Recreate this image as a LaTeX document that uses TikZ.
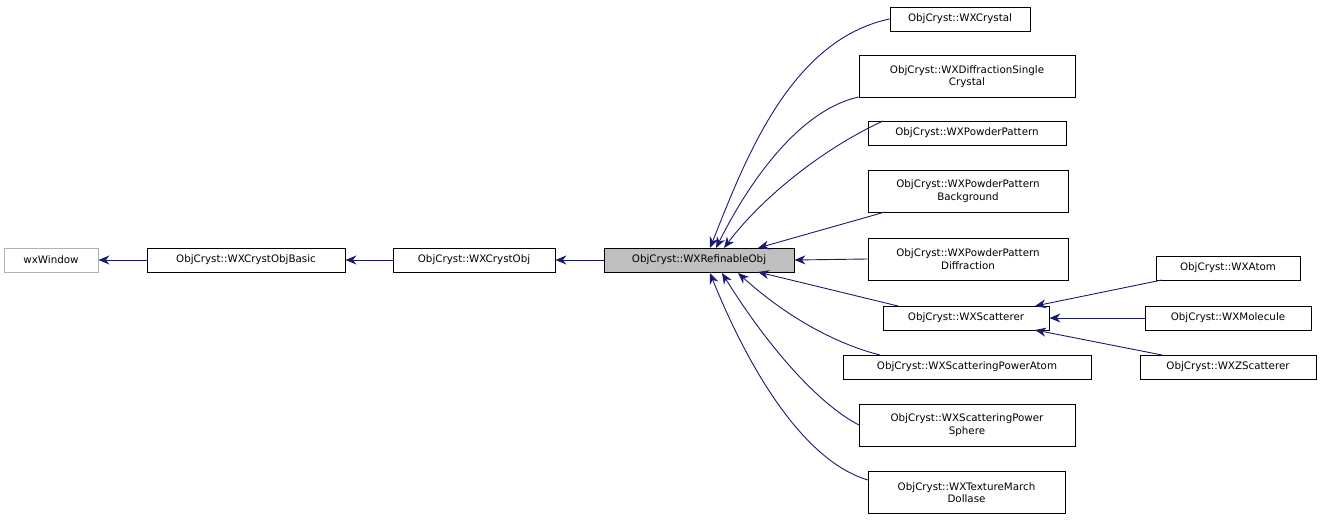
\documentclass[tikz,border=0pt]{standalone}
\usepackage{fontspec}
\setmainfont{DejaVu Sans}
\usetikzlibrary{arrows.meta}
\definecolor{edgec}{HTML}{191970}
\begin{document}
\begin{tikzpicture}[x=1pt,y=-1pt,
  box/.style={draw=black,fill=white,minimum height=24pt,inner sep=0pt,align=center,line width=0.9pt,font=\fontsize{10.3}{12.5}\selectfont},
  box2/.style={box,minimum height=42pt},
  edge/.style={draw=edgec,line width=0.9pt,{Stealth[length=11pt,width=9pt]}-}]
\useasboundingbox (0,0) rectangle (1321,519);
\node[box,draw=gray!60,minimum width=94pt] (wx) at (51,260) {wxWindow};
\node[box,minimum width=198pt] (basic) at (246,260) {ObjCryst::WXCrystObjBasic};
\node[box,minimum width=162pt] (cobj) at (474,260) {ObjCryst::WXCrystObj};
\node[box,fill=gray!50,minimum width=190pt] (ref) at (699,260) {ObjCryst::WXRefinableObj};
\node[box,minimum width=140pt] (crystal) at (960,19) {ObjCryst::WXCrystal};
\node[box2,minimum width=216pt] (single) at (967,76.5) {ObjCryst::WXDiffractionSingle\\Crystal};
\node[box,minimum width=198pt] (powder) at (967,133) {ObjCryst::WXPowderPattern};
\node[box2,minimum width=200pt] (bg) at (968,191) {ObjCryst::WXPowderPattern\\Background};
\node[box2,minimum width=200pt] (diff) at (968,259) {ObjCryst::WXPowderPattern\\Diffraction};
\node[box,minimum width=166pt] (scat) at (966,318) {ObjCryst::WXScatterer};
\node[box,minimum width=248pt] (spa) at (967,367) {ObjCryst::WXScatteringPowerAtom};
\node[box2,minimum width=216pt] (sps) at (967,425) {ObjCryst::WXScatteringPower\\Sphere};
\node[box2,minimum width=197pt] (tmd) at (966.5,492.5) {ObjCryst::WXTextureMarch\\Dollase};
\node[box,minimum width=144pt] (atom) at (1228,268) {ObjCryst::WXAtom};
\node[box,minimum width=166pt] (mol) at (1228,318) {ObjCryst::WXMolecule};
\node[box,minimum width=176pt] (zs) at (1228,367) {ObjCryst::WXZScatterer};
\draw[edge] (wx.east) -- (basic.west);
\draw[edge] (basic.east) -- (cobj.west);
\draw[edge] (cobj.east) -- (ref.west);
\draw[edge] (ref.east) -- (diff.west);
\coordinate (t1) at (710,248);
\coordinate (t2) at (716,248);
\coordinate (t3) at (724,248);
\coordinate (t5) at (758,248);
\coordinate (b1) at (758,272);
\coordinate (b2) at (738,273);
\coordinate (b3) at (722,273);
\coordinate (b4) at (710,273);
\draw[edge] (t1) .. controls (745,160) and (790,40) .. (crystal.west);
\draw[edge] (t2) .. controls (750,180) and (800,110) .. (single.west |- 0,97);
\draw[edge] (t3) .. controls (760,200) and (820,150) .. (883,121);
\draw[edge] (t5) -- (885,212);
\draw[edge] (b1) -- (898,306);
\draw[edge] (b2) .. controls (790,320) and (840,345) .. (880,355);
\draw[edge] (b3) .. controls (770,350) and (820,405) .. (859,425);
\draw[edge] (b4) .. controls (745,360) and (800,460) .. (868,480);
\draw[edge] (1035,330) -- (1162,355);
\draw[edge] (scat.east) -- (mol.west);
\draw[edge] (1035,306) -- (1162,280);
\end{tikzpicture}
\end{document}
